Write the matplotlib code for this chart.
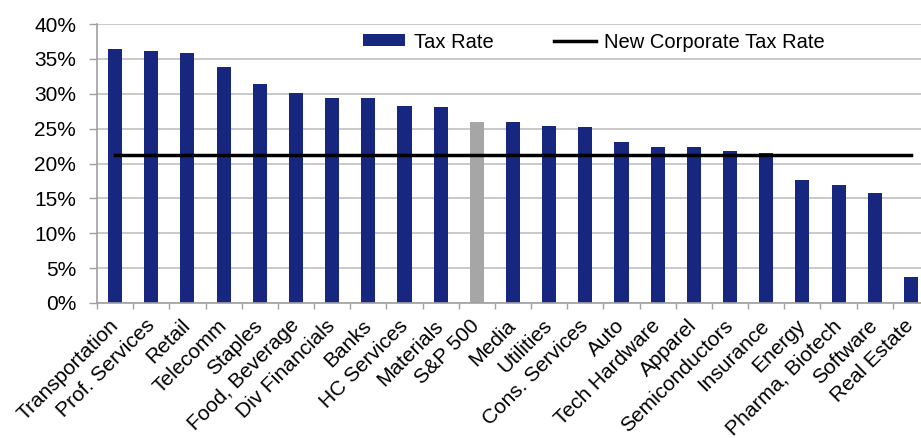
import numpy as np
import matplotlib.pyplot as plt
from matplotlib.patches import Patch
from matplotlib.lines import Line2D
from matplotlib.ticker import PercentFormatter
from matplotlib.transforms import ScaledTranslation

plt.rcParams['font.family'] = ['Liberation Sans', 'DejaVu Sans']

# Effective tax rate by sector (%)
sectors = ['Transportation', 'Prof. Services', 'Retail', 'Telecomm', 'Staples',
           'Food, Beverage', 'Div Financials', 'Banks', 'HC Services', 'Materials',
           'S&P 500', 'Media', 'Utilities', 'Cons. Services', 'Auto',
           'Tech Hardware', 'Apparel', 'Semiconductors', 'Insurance', 'Energy',
           'Pharma, Biotech', 'Software', 'Real Estate']
tax_rate = [36.4, 36.1, 35.8, 33.8, 31.4, 30.1, 29.4, 29.4, 28.2, 28.1,
            25.9, 25.9, 25.4, 25.2, 23.1, 22.3, 22.3, 21.8, 21.5, 17.6,
            16.9, 15.8, 3.7]
new_corp_rate = 21.2

NAVY = '#17267f'
GREY = '#a6a6a6'

fig = plt.figure(figsize=(9.21, 4.38), dpi=100)
ax = fig.add_axes([97 / 921, 135 / 438, 832 / 921, 279 / 438])

x = np.arange(len(sectors))
colors = [GREY if s == 'S&P 500' else NAVY for s in sectors]
ax.bar(x, tax_rate, width=0.39, color=colors, zorder=2)
ax.plot(x, [new_corp_rate] * len(x), color='black', lw=2.5, zorder=3)

ax.set_xlim(-0.5, len(sectors) - 0.5)
ax.set_ylim(0, 40)
ax.set_yticks(np.arange(0, 41, 5))
ax.yaxis.set_major_formatter(PercentFormatter(decimals=0))
ax.grid(axis='y', color='#c0c0c0', lw=1.2, zorder=0)

# category labels end just right of the bar centre, boundary ticks between bars
ax.set_xticks(x)
ax.set_xticklabels(sectors, rotation=45, ha='right', va='baseline',
                   rotation_mode='anchor', fontsize=15)
ax.set_xticks(np.arange(-0.5, len(sectors), 1), minor=True)
ax.tick_params(axis='x', which='major', length=0, pad=17)
ax.tick_params(axis='x', which='minor', length=4, color='#a0a0a0', width=1)
ax.tick_params(axis='y', length=6, color='#a0a0a0', width=1, labelsize=15, pad=9)
shift = ScaledTranslation(4 / 100, 0, fig.dpi_scale_trans)
for lbl in ax.get_xticklabels():
    lbl.set_transform(lbl.get_transform() + shift)

for side in ['top', 'right']:
    ax.spines[side].set_visible(False)
for side in ['left', 'bottom']:
    ax.spines[side].set_color('#a0a0a0')
    ax.spines[side].set_linewidth(1.2)

handles = [Patch(facecolor=NAVY, edgecolor='none'),
           Line2D([0], [0], color='black', lw=2.5)]
leg = fig.legend(handles, ['Tax Rate', 'New Corporate Tax Rate'],
                 loc='center', bbox_to_anchor=(594 / 921, 1 - 42 / 438),
                 ncol=2, frameon=True, fancybox=False, edgecolor='none',
                 facecolor='white', framealpha=1, fontsize=14.5,
                 handlelength=2.1, handleheight=0.55, handletextpad=0.4,
                 columnspacing=3.0, borderpad=0.2)

fig.savefig('out.png', dpi=100)
